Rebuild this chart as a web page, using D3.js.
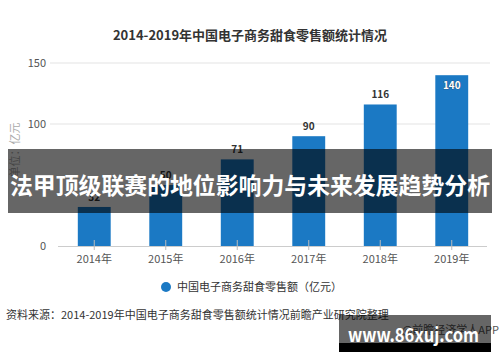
<!DOCTYPE html>
<html><head><meta charset="utf-8">
<script src="https://cdn.jsdelivr.net/npm/d3@7"></script>
<style>body{margin:0;background:#fff}svg{display:block}text{font-family:"Noto Sans CJK SC","Noto Sans",sans-serif}</style>
</head><body><svg id="c" width="500" height="362"></svg>
<script>
const categories = ["2014年","2015年","2016年","2017年","2018年","2019年"];
const values = [32, 50, 71, 90, 116, 140];
const yTicks = [0, 50, 100, 150];
const yLabels = ["0", "", "100", "150"];
const title = "2014-2019年中国电子商务甜食零售额统计情况";
const seriesName = "中国电子商务甜食零售额（亿元）";
const unitLabel = "单位：亿元";
const sourceText = "资料来源：2014-2019年中国电子商务甜食零售额统计情况前瞻产业研究院整理";
const creditText = "@前瞻经济学人APP";
const bannerText = "法甲顶级联赛的地位影响力与未来发展趋势分析";
const watermarkText = "www.86xuj.com";

const svg = d3.select("#c");
const blue = "#1b79c4";
const x = d3.scaleBand().domain(categories).range([58.5, 487.5]).paddingInner(0.54).paddingOuter(0.27);
const y = d3.scaleLinear().domain([0, 150]).range([246, 63]);

svg.append("text").attr("x", 250).attr("y", 40).attr("text-anchor", "middle")
  .attr("font-size", 13).attr("font-weight", "bold").attr("fill", "#333").text(title);

// gridlines
svg.append("g").selectAll("line").data(yTicks.filter(d => d > 0 && yLabels[yTicks.indexOf(d)] !== "")).join("line")
  .attr("x1", 50).attr("x2", 490).attr("y1", d => y(d)).attr("y2", d => y(d))
  .attr("stroke", "#e3e3e3").attr("stroke-width", 1);

svg.append("g").selectAll("text").data(yTicks.filter((d, i) => yLabels[i] !== "")).join("text")
  .attr("x", 46).attr("y", d => y(d) + 4).attr("text-anchor", "end")
  .attr("font-size", 11).attr("fill", "#555").text(d => yLabels[yTicks.indexOf(d)]);

svg.append("text").attr("transform", "translate(19,150) rotate(-90)").attr("text-anchor", "middle")
  .attr("font-size", 11).attr("fill", "#aaa").text(unitLabel);

// bars
svg.append("g").selectAll("rect").data(values).join("rect")
  .attr("x", (d, i) => x(categories[i])).attr("width", x.bandwidth())
  .attr("y", d => y(d)).attr("height", d => y(0) - y(d)).attr("fill", blue);

// baseline
svg.append("line").attr("x1", 58).attr("x2", 487).attr("y1", 246.5).attr("y2", 246.5).attr("stroke", "#ccc");
svg.append("g").selectAll("line").data(categories).join("line")
  .attr("x1", d => x(d) + x.bandwidth() / 2).attr("x2", d => x(d) + x.bandwidth() / 2)
  .attr("y1", 240).attr("y2", 250).attr("stroke", "#bbb");

svg.append("g").selectAll("text").data(categories).join("text")
  .attr("x", d => x(d) + x.bandwidth() / 2).attr("y", 263).attr("text-anchor", "middle")
  .attr("font-size", 11).attr("fill", "#555").text(d => d);

// value labels
const last = values.length - 1;
svg.append("g").selectAll("text").data(values).join("text")
  .attr("x", (d, i) => x(categories[i]) + x.bandwidth() / 2)
  .attr("y", (d, i) => i === last ? y(d) + 14 : y(d) - 6)
  .attr("text-anchor", "middle").attr("font-size", 10).attr("font-weight", "bold")
  .attr("fill", (d, i) => i === last ? "#fff" : "#333")
  .attr("stroke", (d, i) => i === last ? "#345" : "none").attr("stroke-width", 0.6)
  .attr("paint-order", "stroke")
  .text(d => d);

// legend
svg.append("circle").attr("cx", 166).attr("cy", 287).attr("r", 5).attr("fill", blue);
svg.append("text").attr("x", 177).attr("y", 291).attr("font-size", 11).attr("fill", "#333").text(seriesName);

// source
svg.append("text").attr("x", 6).attr("y", 319).attr("font-size", 11).attr("fill", "#333").text(sourceText);
svg.append("text").attr("x", 499).attr("y", 334).attr("text-anchor", "end").attr("font-size", 11).attr("fill", "#555").text(creditText);

// banner overlay
svg.append("rect").attr("x", 8).attr("y", 149).attr("width", 484).attr("height", 64).attr("fill", "rgba(0,0,0,0.6)");
svg.append("text").attr("x", 250).attr("y", 194).attr("text-anchor", "middle")
  .attr("font-size", 23).attr("font-weight", "bold").attr("fill", "#fff")
  .attr("textLength", 480).attr("lengthAdjust", "spacingAndGlyphs").text(bannerText);

// watermark box
svg.append("rect").attr("x", 339).attr("y", 315).attr("width", 152).attr("height", 28).attr("fill", "rgba(0,0,0,0.6)");
svg.append("rect").attr("x", 339).attr("y", 343).attr("width", 152).attr("height", 9).attr("fill", "#000");
svg.append("text").attr("x", 348).attr("y", 342).attr("font-family", "'Liberation Sans',Arial,sans-serif")
  .attr("font-size", 19).attr("font-weight", "bold").attr("fill", "#fff")
  .attr("textLength", 131).attr("lengthAdjust", "spacingAndGlyphs").text(watermarkText);
</script></body></html>
